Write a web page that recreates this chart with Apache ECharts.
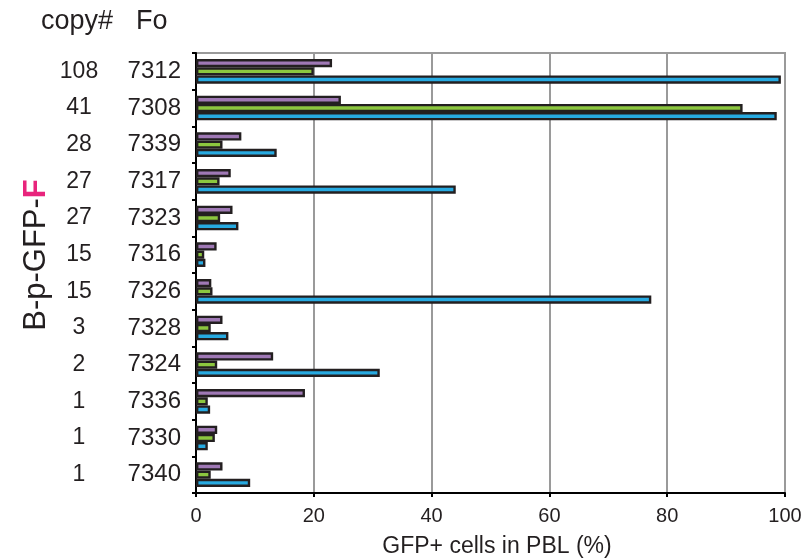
<!DOCTYPE html>
<html>
<head>
<meta charset="utf-8">
<script src="https://cdn.jsdelivr.net/npm/echarts@6/dist/echarts.min.js"></script>
<style>
html,body{margin:0;padding:0;background:#fff;}
#chart{width:804px;height:558px;}
</style>
</head>
<body>
<div id="chart"></div>
<script>
// Data
var foIds = ['7312','7308','7339','7317','7323','7316','7326','7328','7324','7336','7330','7340'];
var copyNumbers = ['108','41','28','27','27','15','15','3','2','1','1','1'];
var purpleValues = [23.1, 24.6, 7.7, 5.9, 6.2, 3.5, 2.6, 4.5, 13.1, 18.5, 3.6, 4.5];
var greenValues  = [20.0, 92.8, 4.5, 4.0, 4.1, 1.4, 2.8, 2.5, 3.6, 2.0, 3.2, 2.5];
var blueValues   = [99.3, 98.6, 13.7, 44.1, 7.2, 1.6, 77.3, 5.5, 31.2, 2.4, 2.0, 9.2];
var xTicks = [0, 20, 40, 60, 80, 100];

var FONT = '"Liberation Sans", Arial, Helvetica, sans-serif';
var chart = echarts.init(document.getElementById('chart'), null, {renderer: 'canvas'});

function barSeries(name, data, color) {
  return {
    name: name,
    type: 'bar',
    data: data,
    barWidth: 8.2,
    barGap: '0%',
    itemStyle: {color: color, borderColor: '#231F20', borderWidth: 2.4},
    emphasis: {disabled: true},
    animation: false
  };
}

var option = {
  animation: false,
  grid: {
    left: 196, right: 19, top: 53, bottom: 65,
    outerBoundsMode: 'none',
    containLabel: false,
    show: true, borderColor: '#9a9a9a', borderWidth: 2, backgroundColor: 'transparent'
  },
  xAxis: {
    type: 'value',
    min: xTicks[0], max: xTicks[xTicks.length - 1], interval: 20,
    name: 'GFP+ cells in PBL (%)',
    nameLocation: 'middle',
    nameGap: 42,
    nameTextStyle: {fontFamily: FONT, fontSize: 23, color: '#231F20', padding: [0, 0, 0, 13]},
    axisLine: {show: true, lineStyle: {color: '#000', width: 2}},
    axisTick: {show: true, length: 4, lineStyle: {color: '#000', width: 2}},
    axisLabel: {fontFamily: FONT, fontSize: 20, color: '#231F20', margin: 13},
    splitLine: {show: true, lineStyle: {color: '#9a9a9a', width: 2}}
  },
  yAxis: {
    type: 'category',
    data: foIds,
    inverse: true,
    axisLine: {show: true, lineStyle: {color: '#000', width: 2}},
    axisTick: {show: true, length: 4, lineStyle: {color: '#000', width: 2}},
    splitLine: {show: false},
    axisLabel: {
      margin: 15,
      formatter: function (v, i) {
        return '{c|' + copyNumbers[i] + '}{s|}{f|' + v + '}';
      },
      rich: {
        c: {width: 50, align: 'center', fontFamily: FONT, fontSize: 23, color: '#231F20'},
        s: {width: 17},
        f: {width: 60, align: 'right', fontFamily: FONT, fontSize: 24, color: '#231F20'}
      }
    }
  },
  series: [
    barSeries('purple', purpleValues, '#9F78B5'),
    barSeries('green', greenValues, '#8CC63F'),
    barSeries('blue', blueValues, '#27AAE1')
  ],
  graphic: [
    {type: 'text', left: 41, top: 8, style: {text: 'copy#', fontFamily: FONT, fontSize: 27, fill: '#231F20'}},
    {type: 'text', left: 136, top: 8, style: {text: 'Fo', fontFamily: FONT, fontSize: 27, fill: '#231F20'}},
    {
      type: 'text', x: 36, y: 255, rotation: Math.PI / 2,
      style: {
        text: '{a|B-p-GFP-}{b|F}',
        align: 'center', verticalAlign: 'middle',
        rich: {
          a: {fontFamily: FONT, fontSize: 31, fill: '#231F20'},
          b: {fontFamily: FONT, fontSize: 31, fontWeight: 'bold', fill: '#E8247C'}
        }
      }
    }
  ]
};
chart.setOption(option);
</script>
</body>
</html>
